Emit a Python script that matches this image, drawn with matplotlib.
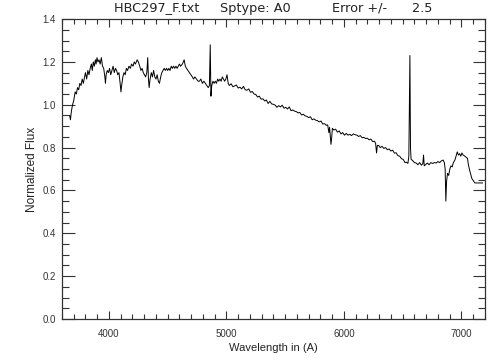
import matplotlib
matplotlib.use("Agg")
import matplotlib.pyplot as plt
from matplotlib.ticker import MultipleLocator

plt.rcParams['font.family'] = ['Liberation Sans', 'DejaVu Sans']

# spectrum (wavelength in A, normalized flux)
wave = [3665, 3672, 3680, 3690, 3700, 3712, 3722, 3732, 3742, 3752, 3762, 3772, 3782, 3792,
        3800, 3810, 3820, 3830, 3840, 3850, 3858, 3866, 3875, 3884, 3890, 3898, 3906, 3915,
        3925, 3935, 3945, 3955, 3965, 3970, 3976, 3985, 3995, 4005, 4015, 4025, 4035, 4045,
        4055, 4065, 4075, 4085, 4095, 4102, 4108, 4118, 4128, 4138, 4148, 4158, 4170, 4182,
        4192, 4205, 4215, 4225, 4240, 4250, 4262, 4272, 4282, 4292, 4302, 4312, 4322, 4330,
        4336, 4342, 4350, 4360, 4370, 4380, 4390, 4400, 4410, 4420, 4430, 4440, 4450, 4460,
        4470, 4480, 4490, 4500, 4510, 4520, 4530, 4540, 4550, 4560, 4570, 4580, 4590, 4600,
        4610, 4625, 4640, 4650, 4660, 4672, 4685, 4698, 4710, 4720, 4732, 4745, 4758, 4770,
        4782, 4795, 4808, 4820, 4832, 4845, 4855, 4862, 4868, 4875, 4885, 4895, 4905, 4915,
        4925, 4935, 4945, 4955, 4965, 4975, 4985, 4995, 5005, 5015,
        5025, 5040, 5055, 5070, 5085, 5100, 5115, 5130, 5145, 5160, 5175, 5190, 5205, 5220,
        5235, 5250, 5265, 5280, 5295, 5310, 5325, 5340, 5355, 5370, 5385, 5400, 5415, 5430,
        5445, 5460, 5475, 5490, 5505, 5520, 5535, 5550, 5565, 5580, 5595, 5610, 5625, 5640,
        5655, 5670, 5685, 5700, 5715, 5730, 5745, 5760, 5775, 5790, 5805, 5820, 5835, 5850,
        5862, 5872, 5878, 5885, 5890, 5895, 5902, 5915, 5930, 5945, 5960, 5975, 5990, 6005,
        6020, 6035, 6050, 6065, 6080, 6095, 6112, 6125, 6140, 6155, 6170, 6185, 6200, 6215,
        6230, 6245, 6260, 6270, 6278, 6285, 6296, 6310, 6325, 6340, 6355, 6370, 6385, 6400,
        6415, 6430, 6445, 6460, 6475, 6490, 6505, 6520, 6532, 6545, 6553, 6558, 6562, 6567,
        6572, 6585, 6600, 6615, 6630, 6645, 6660, 6672, 6678, 6684, 6695, 6710, 6725, 6740,
        6755, 6770, 6785, 6800, 6815, 6830, 6845, 6855, 6862, 6868, 6874, 6882, 6892, 6902,
        6912, 6922, 6932, 6945, 6955, 6965, 6975, 6985, 6995, 7005, 7015, 7025, 7040, 7052,
        7060, 7070, 7090, 7115, 7180]

flux = [0.95, 0.93, 0.97, 1.00, 1.02, 1.06, 1.05, 1.08, 1.07, 1.10, 1.09, 1.12, 1.10, 1.13,
        1.15, 1.12, 1.16, 1.14, 1.17, 1.19, 1.16, 1.20, 1.18, 1.21, 1.19, 1.22, 1.20, 1.21,
        1.19, 1.22, 1.18, 1.17, 1.13, 1.10, 1.14, 1.16, 1.15, 1.17, 1.14, 1.16, 1.18, 1.15,
        1.17, 1.16, 1.14, 1.15, 1.10, 1.06, 1.09, 1.13, 1.15, 1.14, 1.17, 1.16, 1.18, 1.17,
        1.19, 1.18, 1.20, 1.19, 1.21, 1.20, 1.18, 1.16, 1.17, 1.15, 1.14, 1.13, 1.15, 1.22,
        1.12, 1.08, 1.12, 1.15, 1.13, 1.16, 1.13, 1.12, 1.14, 1.11, 1.10, 1.13, 1.15, 1.16,
        1.17, 1.16, 1.17, 1.16, 1.17, 1.16, 1.18, 1.17, 1.18, 1.17, 1.18, 1.17, 1.18, 1.19,
        1.18, 1.19, 1.21, 1.18, 1.17, 1.16, 1.15, 1.14, 1.13, 1.12, 1.13, 1.12, 1.11, 1.11,
        1.12, 1.10, 1.11, 1.10, 1.09, 1.08, 1.09, 1.28, 1.04, 1.09, 1.11, 1.10, 1.11, 1.10,
        1.12, 1.11, 1.12, 1.11, 1.13, 1.12, 1.11, 1.12, 1.14, 1.10,
        1.09, 1.098, 1.084, 1.088, 1.092, 1.078, 1.082, 1.074, 1.086, 1.07, 1.068, 1.074, 1.058, 1.062,
        1.05, 1.048, 1.036, 1.04, 1.026, 1.028, 1.018, 1.022, 1.006, 1.016, 1.004, 1.002, 0.998, 0.988,
        0.996, 0.99, 0.998, 0.984, 0.988, 0.98, 0.99, 0.972, 0.976, 0.97, 0.968, 0.962, 0.964, 0.952,
        0.956, 0.948, 0.946, 0.94, 0.944, 0.93, 0.934, 0.928, 0.926, 0.92, 0.924, 0.91, 0.912, 0.904,
        0.906, 0.87, 0.895, 0.85, 0.815, 0.84, 0.89, 0.882, 0.886, 0.872, 0.878, 0.864, 0.87, 0.858,
        0.866, 0.858, 0.862, 0.856, 0.864, 0.86, 0.858, 0.852, 0.856, 0.846, 0.848, 0.842, 0.844, 0.836,
        0.84, 0.828, 0.83, 0.82, 0.775, 0.81, 0.81, 0.8, 0.806, 0.796, 0.8, 0.79, 0.794, 0.784,
        0.788, 0.774, 0.776, 0.762, 0.76, 0.748, 0.745, 0.73, 0.732, 0.726, 0.76, 1.0, 1.23, 0.80,
        0.745, 0.74, 0.73, 0.728, 0.72, 0.73, 0.718, 0.725, 0.765, 0.715, 0.72, 0.728, 0.72, 0.73,
        0.726, 0.73, 0.728, 0.735, 0.73, 0.738, 0.742, 0.73, 0.70, 0.55, 0.64, 0.68, 0.67, 0.70,
        0.715, 0.71, 0.73, 0.742, 0.76, 0.78, 0.765, 0.772, 0.76, 0.775, 0.765, 0.762, 0.755, 0.75,
        0.72, 0.695, 0.655, 0.635, 0.635]

title = "HBC297_F.txt     Sptype: A0          Error +/-      2.5"

fig = plt.figure(figsize=(5.04, 3.6), dpi=100)
ax = fig.add_axes([0.123, 0.114, 0.839, 0.833])

ax.plot(wave, flux, color="black", linewidth=0.7)

ax.set_xlim(3600, 7200)
ax.set_ylim(0, 1.4)
ax.xaxis.set_major_locator(MultipleLocator(1000))
ax.xaxis.set_minor_locator(MultipleLocator(100))
ax.yaxis.set_major_locator(MultipleLocator(0.2))
ax.yaxis.set_minor_locator(MultipleLocator(0.05))
ax.yaxis.set_major_formatter(plt.FormatStrFormatter('%.1f'))

ax.tick_params(which="both", direction="in", top=True, right=True,
               colors="#333333", labelsize=7, width=0.8)
ax.tick_params(which="major", length=6)
ax.tick_params(which="minor", length=3.5)
ax.tick_params(axis="y", which="major", length=9, pad=4.5)
ax.tick_params(axis="y", which="minor", length=5)
ax.tick_params(axis="x", which="major", pad=7)
for s in ax.spines.values():
    s.set_color("#333333")
    s.set_linewidth(0.9)

ax.set_xlabel("Wavelength in (A)", fontsize=8, color="#222222", labelpad=3)
ax.set_ylabel("Normalized Flux", fontsize=8.5, color="#222222", labelpad=3)
ax.set_title(title, fontsize=9.3, color="#222222", pad=5, family="DejaVu Sans")

fig.savefig("out.png", dpi=100)
